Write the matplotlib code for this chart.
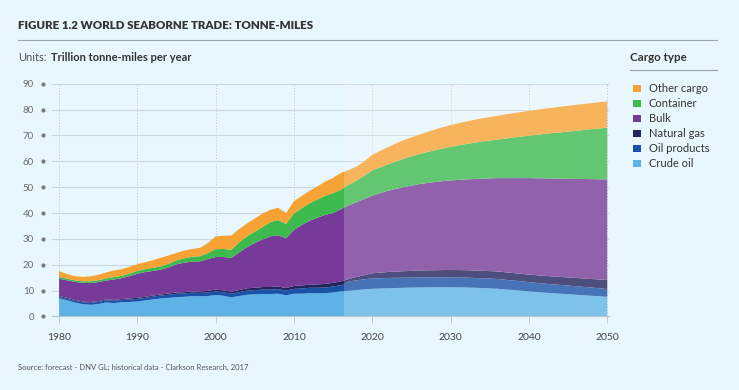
import matplotlib
matplotlib.use("Agg")
import matplotlib.pyplot as plt
from matplotlib.lines import Line2D
from matplotlib.patches import Patch
from matplotlib.transforms import blended_transform_factory

plt.rcParams["font.family"] = ["Lato", "DejaVu Sans"]

# years: annual history to 2020, then every two years
years = list(range(1980, 2021)) + list(range(2022, 2051, 2))

crude = [7.0, 6.3, 5.4, 4.8, 4.5, 4.8, 5.4, 5.2, 5.5, 5.6,
         5.8, 6.2, 6.6, 7.0, 7.2, 7.5, 7.6, 7.9, 7.8, 7.9,
         8.3, 8.0, 7.4, 7.9, 8.4, 8.6, 8.7, 8.7, 8.8, 8.2,
         8.8, 8.8, 9.0, 8.9, 9.0, 9.3, 9.7,
         9.9, 10.2, 10.5, 10.7, 10.9, 11.1, 11.2, 11.3, 11.3, 11.2,
         11.0, 10.7, 10.2, 9.7, 9.2, 8.8, 8.4, 8.0, 7.6]
oil_products = [0.6, 0.6, 0.7, 0.7, 0.8, 0.8, 0.9, 0.9, 0.9, 1.0,
                1.0, 1.0, 1.1, 1.1, 1.2, 1.3, 1.3, 1.3, 1.3, 1.4,
                1.4, 1.4, 1.4, 1.5, 1.6, 1.6, 1.7, 1.7, 1.8, 1.8,
                1.9, 2.0, 2.1, 2.2, 2.2, 2.3, 2.4,
                3.6, 3.8, 3.9, 4.0, 4.0, 3.9, 3.9, 3.8, 3.8, 3.8,
                3.8, 3.8, 3.7, 3.6, 3.5, 3.4, 3.3, 3.2, 3.0]
natural_gas = [0.3, 0.3, 0.3, 0.3, 0.3, 0.3, 0.3, 0.3, 0.3, 0.4,
               0.4, 0.4, 0.4, 0.4, 0.5, 0.5, 0.5, 0.5, 0.6, 0.6,
               0.7, 0.7, 0.8, 0.8, 0.9, 0.9, 1.0, 1.0, 1.0, 1.0,
               1.1, 1.2, 1.2, 1.3, 1.4, 1.4, 1.5,
               1.0, 1.3, 1.6, 2.0, 2.3, 2.5, 2.7, 2.8, 2.9, 2.9,
               2.9, 2.9, 2.9, 2.9, 3.0, 3.1, 3.2, 3.3, 3.5]
bulk = [6.7, 6.8, 7.0, 7.2, 7.3, 7.4, 7.3, 7.9, 8.1, 8.6,
        9.3, 9.6, 9.5, 9.6, 10.1, 10.9, 11.4, 11.5, 11.6, 12.3,
        12.6, 12.9, 13.0, 14.6, 15.9, 17.3, 18.4, 19.6, 19.8, 19.2,
        21.7, 23.4, 24.7, 25.8, 26.7, 27.0, 27.9,
        28.5, 28.9, 29.5, 30.0, 31.4, 32.5, 33.4, 34.1, 34.6, 35.1,
        35.6, 36.1, 36.7, 37.3, 37.7, 38.0, 38.3, 38.6, 38.9]
container = [0.7, 0.6, 0.6, 0.6, 0.7, 0.7, 0.8, 0.9, 0.9, 1.0,
             1.1, 1.1, 1.2, 1.3, 1.4, 1.5, 1.7, 1.9, 2.0, 2.3,
             3.0, 3.1, 3.2, 3.8, 4.2, 4.4, 4.8, 5.5, 5.9, 5.6,
             6.3, 6.5, 6.8, 7.0, 7.3, 7.7, 7.5,
             8.0, 8.3, 9.0, 9.8, 10.2, 11.0, 11.6, 12.3, 13.0, 13.7,
             14.3, 14.9, 15.7, 16.4, 17.2, 17.9, 18.6, 19.3, 20.0]
other = [2.3, 1.8, 1.6, 1.7, 1.9, 2.1, 2.3, 2.6, 2.6, 2.6,
         2.6, 2.7, 3.0, 3.3, 3.2, 2.9, 3.0, 3.0, 3.2, 3.9,
         5.0, 5.1, 5.5, 5.2, 5.0, 5.1, 5.2, 4.8, 4.7, 4.2,
         4.8, 4.7, 4.8, 5.1, 5.6, 5.9, 6.5,
         5.6, 5.5, 5.5, 6.0, 6.7, 7.2, 7.5, 8.0, 8.4, 8.7,
         9.0, 9.2, 9.4, 9.6, 9.7, 9.9, 10.0, 10.1, 10.2]

labels = ["Crude oil", "Oil products", "Natural gas", "Bulk", "Container", "Other cargo"]
colors = ["#5DB3E5", "#1A52A8", "#23235E", "#773A98", "#3DBA4E", "#F7A234"]
forecast_start = 2016.4

bg = "#E8F6FD"
fig = plt.figure(figsize=(7.39, 3.9), dpi=100, facecolor=bg)
ax = fig.add_axes([0.0704, 0.1885, 0.7533, 0.5969])
ax.set_facecolor(bg)

ax.stackplot(years, crude, oil_products, natural_gas, bulk, container, other,
             colors=colors, linewidth=0, zorder=2)
# lighter forecast part
ax.axvspan(forecast_start, 2050, color="white", alpha=0.2, lw=0, zorder=3)

ax.set_xlim(1979.1, 2050.2)
ax.set_ylim(0, 90)
ax.set_yticks(range(0, 91, 10))
ax.set_xticks(range(1980, 2051, 10))
for s in ["top", "right", "left"]:
    ax.spines[s].set_visible(False)
ax.spines["bottom"].set_color("#B9C4CB")
ax.grid(axis="y", color="#CBD5DC", lw=0.8, zorder=0)
ax.grid(axis="x", color="#B7C2CA", lw=0.7, ls=(0, (1, 2)), zorder=0)
ax.tick_params(axis="y", length=0, pad=13, labelsize=7, labelcolor="#6B6B6B")
ax.tick_params(axis="x", length=5, color="#C0CAD0", width=0.7, pad=7,
               labelsize=7.5, labelcolor="#444444")

# small dots beside the y labels
tr = blended_transform_factory(ax.transAxes, ax.transData)
ax.scatter([-0.016] * 10, list(range(0, 91, 10)), s=4, color="#7A7A7A",
           transform=tr, clip_on=False, zorder=5)

# header
fig.text(0.024, 0.935, "FIGURE 1.2 WORLD SEABORNE TRADE: TONNE-MILES",
         fontsize=8.3, fontweight="heavy", color="#333333", va="center")
fig.add_artist(Line2D([0.024, 0.97], [0.897, 0.897], color="#9AA3A8", lw=0.8))
fig.text(0.024, 0.853, "Units:", fontsize=8, color="#555555", va="center")
fig.text(0.069, 0.853, "Trillion tonne-miles per year", fontsize=8,
         fontweight="bold", color="#333333", va="center")

# legend
fig.text(0.853, 0.853, "Cargo type", fontsize=8.3, fontweight="bold",
         color="#333333", va="center")
fig.add_artist(Line2D([0.853, 0.97], [0.82, 0.82], color="#9AA3A8", lw=0.8))
handles = [Patch(facecolor=c, edgecolor="none") for c in colors[::-1]]
fig.legend(handles, labels[::-1], loc="upper left", bbox_to_anchor=(0.857, 0.786),
           frameon=False, fontsize=8, labelcolor="#333333",
           handlelength=0.7, handleheight=0.7, handletextpad=0.7, labelspacing=0.36,
           borderaxespad=0, borderpad=0)

fig.text(0.024, 0.057, "Source: forecast - DNV GL; historical data - Clarkson Research, 2017",
         fontsize=5.5, color="#555555", va="center")

fig.savefig("out.png", dpi=100, facecolor=bg)
